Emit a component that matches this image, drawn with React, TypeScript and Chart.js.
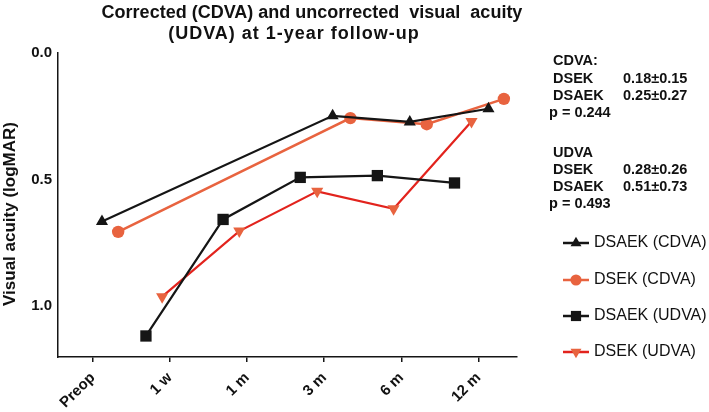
import React, { useEffect, useRef } from "react";
import { Chart, registerables } from "chart.js";

Chart.register(...registerables);

// ---- data ----
const categories = ["Preop", "1 w", "1 m", "3 m", "6 m", "12 m"];
const yTickValues = [0, 0.5, 1.0];

const dsaekCdvaX = [0.12, 3.11, 4.11, 5.13];
const dsaekCdvaY = [0.665, 0.248, 0.272, 0.22];

const dsekCdvaX = [0.33, 3.34, 4.33, 5.33];
const dsekCdvaY = [0.706, 0.257, 0.281, 0.181];

const dsaekUdvaX = [0.69, 1.69, 2.69, 3.69, 4.69];
const dsaekUdvaY = [1.117, 0.657, 0.491, 0.484, 0.513];

const dsekUdvaX = [0.9, 1.9, 2.91, 3.9, 4.91];
const dsekUdvaY = [0.962, 0.703, 0.546, 0.615, 0.27];

const titleLines = ["Corrected (CDVA) and uncorrected  visual  acuity", "(UDVA) at 1-year follow-up"];
const yTitle = "Visual acuity (logMAR)";

const cdvaHeader = "CDVA:";
const cdvaRows = [
  ["DSEK", "0.18±0.15"],
  ["DSAEK", "0.25±0.27"],
];
const cdvaP = "p = 0.244";
const udvaHeader = "UDVA";
const udvaRows = [
  ["DSEK", "0.28±0.26"],
  ["DSAEK", "0.51±0.73"],
];
const udvaP = "p = 0.493";

const legendLabels = ["DSAEK (CDVA)", "DSEK (CDVA)", "DSAEK (UDVA)", "DSEK (UDVA)"];

const BLACK = "#151515";
const ORANGE = "#e8633f";
const RED = "#e2231d";
const FONT = '"Liberation Sans", Arial, Helvetica, sans-serif';

const toPoints = (xs: number[], ys: number[]) => xs.map((x, i) => ({ x, y: ys[i] }));

function drawMarker(ctx: CanvasRenderingContext2D, style: string, x: number, y: number, r: number, color: string, rot: number) {
  ctx.save();
  ctx.fillStyle = color;
  ctx.translate(x, y);
  ctx.rotate((rot * Math.PI) / 180);
  ctx.beginPath();
  if (style === "circle") {
    ctx.arc(0, 0, r, 0, Math.PI * 2);
  } else if (style === "rect") {
    const s = r * Math.SQRT1_2;
    ctx.rect(-s, -s, 2 * s, 2 * s);
  } else if (style === "triangle") {
    for (let k = 0; k < 3; k++) {
      const a = -Math.PI / 2 + (k * 2 * Math.PI) / 3;
      const px = Math.cos(a) * r;
      const py = Math.sin(a) * r;
      if (k === 0) ctx.moveTo(px, py);
      else ctx.lineTo(px, py);
    }
    ctx.closePath();
  }
  ctx.fill();
  ctx.restore();
}

const overlayPlugin = {
  id: "overlay",
  afterDraw(chart: any) {
    const ctx: CanvasRenderingContext2D = chart.ctx;
    ctx.save();
    ctx.fillStyle = "#111";

    // title
    ctx.font = `bold 18px ${FONT}`;
    ctx.textAlign = "center";
    ctx.textBaseline = "alphabetic";
    ctx.fillText(titleLines[0], 312, 18);
    (ctx as any).letterSpacing = "1px";
    ctx.fillText(titleLines[1], 294, 39);
    (ctx as any).letterSpacing = "0px";

    // y-axis title
    ctx.save();
    ctx.translate(10, 214);
    ctx.rotate(-Math.PI / 2);
    ctx.font = `bold 17px ${FONT}`;
    ctx.textBaseline = "middle";
    ctx.textAlign = "center";
    ctx.fillText(yTitle, 0, 0);
    ctx.restore();

    // statistics
    ctx.font = `bold 14.5px ${FONT}`;
    ctx.textAlign = "left";
    ctx.textBaseline = "middle";
    ctx.fillText(cdvaHeader, 553, 61);
    cdvaRows.forEach((r, i) => {
      ctx.fillText(r[0], 553, 79 + i * 17);
      ctx.fillText(r[1], 623, 79 + i * 17);
    });
    ctx.fillText(cdvaP, 549, 113);
    ctx.fillText(udvaHeader, 553, 153);
    udvaRows.forEach((r, i) => {
      ctx.fillText(r[0], 553, 170 + i * 17);
      ctx.fillText(r[1], 623, 170 + i * 17);
    });
    ctx.fillText(udvaP, 549, 204);

    // legend
    const ys = [243, 280, 316, 352];
    chart.data.datasets.forEach((ds: any, i: number) => {
      const y = ys[i];
      ctx.strokeStyle = ds.borderColor;
      ctx.lineWidth = 2.5;
      ctx.beginPath();
      ctx.moveTo(563, y);
      ctx.lineTo(589, y);
      ctx.stroke();
      drawMarker(ctx, ds.pointStyle, 576, y, ds.pointRadius * 0.9, ds.pointBackgroundColor, ds.rotation || 0);
      ctx.fillStyle = "#111";
      ctx.font = `16px ${FONT}`;
      ctx.textAlign = "left";
      ctx.textBaseline = "middle";
      ctx.fillText(legendLabels[i], 594, y);
    });

    ctx.restore();
  },
};

export default function App() {
  const canvasRef = useRef<HTMLCanvasElement | null>(null);

  useEffect(() => {
    if (!canvasRef.current) return;
    const chart = new Chart(canvasRef.current, {
      type: "line",
      data: {
        datasets: [
          {
            label: legendLabels[0],
            data: toPoints(dsaekCdvaX, dsaekCdvaY),
            borderColor: BLACK,
            backgroundColor: BLACK,
            pointBackgroundColor: BLACK,
            pointBorderColor: BLACK,
            pointStyle: "triangle",
            pointRadius: 7,
            pointBorderWidth: 0,
            borderWidth: 2.2,
            clip: false,
          } as any,
          {
            label: legendLabels[1],
            data: toPoints(dsekCdvaX, dsekCdvaY),
            borderColor: ORANGE,
            backgroundColor: ORANGE,
            pointBackgroundColor: ORANGE,
            pointBorderColor: ORANGE,
            pointStyle: "circle",
            pointRadius: 6.2,
            pointBorderWidth: 0,
            borderWidth: 2.5,
            clip: false,
          } as any,
          {
            label: legendLabels[2],
            data: toPoints(dsaekUdvaX, dsaekUdvaY),
            borderColor: BLACK,
            backgroundColor: BLACK,
            pointBackgroundColor: BLACK,
            pointBorderColor: BLACK,
            pointStyle: "rect",
            pointRadius: 8,
            pointBorderWidth: 0,
            borderWidth: 2.2,
            clip: false,
          } as any,
          {
            label: legendLabels[3],
            data: toPoints(dsekUdvaX, dsekUdvaY),
            borderColor: RED,
            backgroundColor: ORANGE,
            pointBackgroundColor: ORANGE,
            pointBorderColor: ORANGE,
            pointStyle: "triangle",
            rotation: 180,
            pointRadius: 7,
            pointBorderWidth: 0,
            borderWidth: 2.2,
            clip: false,
          } as any,
        ],
      },
      options: {
        animation: false,
        responsive: true,
        maintainAspectRatio: false,
        layout: { padding: { top: 53, right: 192, left: 0, bottom: 0 } },
        plugins: {
          legend: { display: false },
          title: { display: false },
          tooltip: { enabled: false },
        },
        scales: {
          x: {
            type: "linear",
            min: -0.45,
            max: 5.5,
            afterBuildTicks: (s: any) => {
              s.ticks = categories.map((_, i) => ({ value: i }));
            },
            afterFit: (s: any) => {
              s.height = 55;
            },
            ticks: {
              autoSkip: false,
              minRotation: 45,
              maxRotation: 45,
              padding: 7,
              color: "#111",
              font: { family: FONT, size: 15, weight: "bold" },
              callback: (v: any) => categories[Math.round(Number(v))] ?? "",
            },
            grid: {
              drawOnChartArea: false,
              drawTicks: true,
              tickLength: 5,
              color: BLACK,
              lineWidth: 1.5,
            },
            border: { display: true, color: BLACK, width: 1.5 },
          },
          y: {
            type: "linear",
            reverse: true,
            min: 0,
            max: 1.2,
            afterBuildTicks: (s: any) => {
              s.ticks = yTickValues.map((v) => ({ value: v }));
            },
            afterFit: (s: any) => {
              s.width = 58;
            },
            ticks: {
              padding: 6,
              color: "#111",
              font: { family: FONT, size: 15, weight: "bold" },
              callback: (v: any) => Number(v).toFixed(1),
            },
            grid: {
              drawOnChartArea: false,
              drawTicks: false,
              tickLength: 0,
            },
            border: { display: true, color: BLACK, width: 1.5 },
          },
        },
      } as any,
      plugins: [overlayPlugin],
    });
    return () => chart.destroy();
  }, []);

  return (
    <div style={{ position: "absolute", left: 0, top: 0, width: 709, height: 412 }}>
      <canvas ref={canvasRef} />
    </div>
  );
}
